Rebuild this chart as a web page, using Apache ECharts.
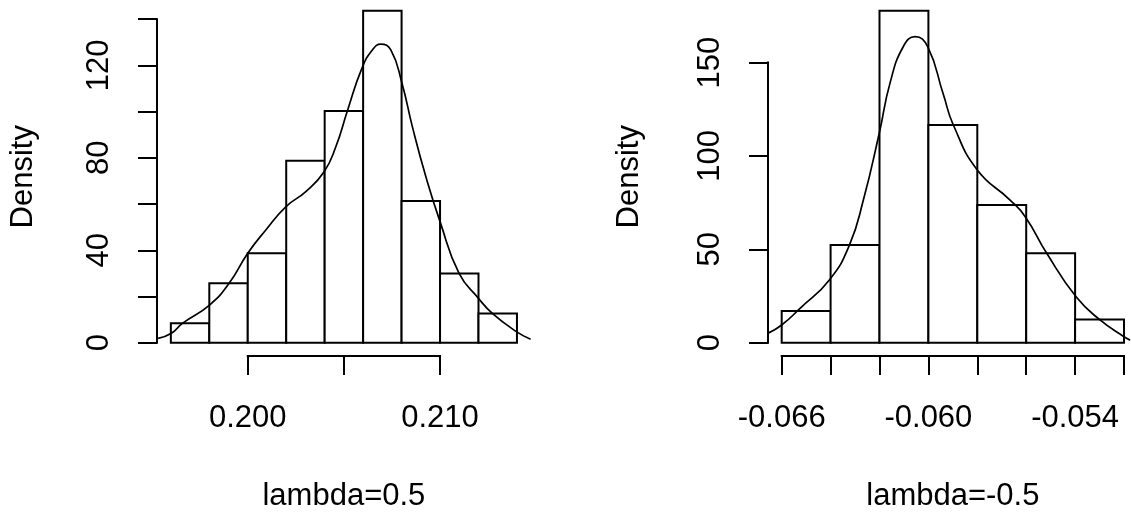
<!DOCTYPE html>
<html><head><meta charset="utf-8">
<script src="https://cdn.jsdelivr.net/npm/echarts@6/dist/echarts.min.js"></script>
<style>html,body{margin:0;padding:0;background:#fff}#c{width:1131px;height:513px}</style>
</head><body><div id="c"></div>
<script>
// ---- Left panel: lambda=0.5 ----
const leftBreaks = [0.196, 0.198, 0.200, 0.202, 0.204, 0.206, 0.208, 0.210, 0.212, 0.214];
const leftDensity = [8.4, 25.7, 38.7, 78.7, 100.3, 143.6, 61.3, 30.0, 12.7];
const leftCurveX = [0.19534, 0.19603, 0.19660, 0.19801, 0.19903, 0.20000, 0.20094, 0.20199, 0.20302, 0.20397, 0.20458, 0.20518, 0.20594, 0.20648, 0.20692, 0.20744, 0.20802, 0.20856, 0.20926, 0.21000, 0.21099, 0.21200, 0.21272, 0.21397, 0.21471];
const leftCurveY = [1.9, 4.1, 8.4, 16.3, 25.7, 38.7, 48.8, 58.9, 65.4, 74.0, 84.8, 100.3, 118.8, 126.7, 129.2, 126.7, 112.3, 93.5, 71.9, 52.4, 30.0, 19.2, 12.7, 4.8, 1.5];
const leftXTicks = [0.200, 0.205, 0.210];
const leftXLabels = [0.200, 0.210];
const leftYTicks = [0, 20, 40, 60, 80, 100, 120, 140];
const leftYLabels = [0, 40, 80, 120];
const leftTitle = 'lambda=0.5';

// ---- Right panel: lambda=-0.5 ----
const rightBreaks = [-0.066, -0.064, -0.062, -0.060, -0.058, -0.056, -0.054, -0.052];
const rightDensity = [17.0, 52.3, 177.7, 116.6, 73.8, 47.9, 12.5];
const rightCurveX = [-0.06657, -0.06600, -0.06525, -0.06405, -0.06323, -0.06266, -0.06201, -0.06157, -0.06103, -0.06054, -0.06003, -0.05939, -0.05898, -0.05800, -0.05666, -0.05604, -0.05516, -0.05396, -0.05298, -0.05200, -0.05175];
const rightCurveY = [5.0, 9.5, 18.4, 33.6, 52.3, 76.4, 112.2, 139.0, 158.5, 163.9, 158.5, 133.0, 116.6, 92.5, 76.4, 67.5, 47.9, 24.6, 12.2, 3.2, 1.4];
const rightXTicks = [-0.066, -0.064, -0.062, -0.060, -0.058, -0.056, -0.054, -0.052];
const rightXLabels = [-0.066, -0.060, -0.054];
const rightYTicks = [0, 50, 100, 150];
const rightYLabels = [0, 50, 100, 150];
const rightTitle = 'lambda=-0.5';
const yTitle = 'Density';

const FONT = 'Liberation Sans, Arial, sans-serif';
const FS = 31;

function lims(breaks, dens) {
  const x0 = breaks[0], x1 = breaks[breaks.length - 1];
  const xr = x1 - x0;
  const ym = Math.max(...dens);
  return { x: [x0 - 0.04 * xr, x1 + 0.04 * xr], y: [-0.04 * ym, ym * 1.04] };
}
const L = lims(leftBreaks, leftDensity);
const R = lims(rightBreaks, rightDensity);

function xAxisFor(gi, lim, ticks, labels, name) {
  return {
    type: 'value', gridIndex: gi, min: lim.x[0], max: lim.x[1],
    axisLine: { show: false, onZero: false }, splitLine: { show: false },
    axisTick: { show: true, customValues: ticks, length: 19, lineStyle: { color: '#000', width: 2 } },
    axisLabel: { customValues: labels, margin: 47, fontSize: FS, fontFamily: FONT, color: '#000',
      formatter: v => v.toFixed(3) },
    name: name, nameLocation: 'middle', nameGap: 125,
    nameTextStyle: { fontSize: FS, fontFamily: FONT, color: '#000' }
  };
}
function yAxisFor(gi, lim, ticks, labels, gap) {
  return {
    type: 'value', gridIndex: gi, min: lim.y[0], max: lim.y[1],
    axisLine: { show: false, onZero: false }, splitLine: { show: false },
    axisTick: { show: true, customValues: ticks, length: 19, lineStyle: { color: '#000', width: 2 } },
    axisLabel: { customValues: labels, rotate: 90, margin: 42, fontSize: FS, fontFamily: FONT, color: '#000',
      formatter: v => String(Math.round(v)) },
    name: yTitle, nameLocation: 'middle', nameGap: gap, nameRotate: 90,
    nameTextStyle: { fontSize: FS, fontFamily: FONT, color: '#000' }
  };
}
function histSeries(gi, breaks, dens) {
  return {
    type: 'custom', xAxisIndex: gi, yAxisIndex: gi, silent: true,
    data: dens.map((d, i) => [breaks[i], breaks[i + 1], d]),
    encode: { x: [0, 1], y: 2 },
    renderItem: function (params, api) {
      const p0 = api.coord([api.value(0), api.value(2)]);
      const p1 = api.coord([api.value(1), 0]);
      return { type: 'rect', shape: { x: p0[0], y: p0[1], width: p1[0] - p0[0], height: p1[1] - p0[1] },
        style: { fill: '#fff', stroke: '#000', lineWidth: 2 } };
    }
  };
}
function curveSeries(gi, xs, ys) {
  return { type: 'line', xAxisIndex: gi, yAxisIndex: gi, silent: true, smooth: 0.5, symbol: 'none',
    data: xs.map((x, i) => [x, ys[i]]), lineStyle: { color: '#000', width: 1.7 } };
}
function axisSeg(gi, pts) {
  return { type: 'line', xAxisIndex: gi, yAxisIndex: gi, silent: true, clip: false, symbol: 'none',
    data: pts, lineStyle: { color: '#000', width: 2, cap: 'square' } };
}

const chart = echarts.init(document.getElementById('c'), null, { renderer: 'canvas' });
chart.setOption({
  animation: false,
  backgroundColor: '#fff',
  grid: [
    { left: 157, top: -2.4, width: 373.8, height: 358.4, outerBoundsMode: 'none', containLabel: false },
    { left: 768, top: -2.4, width: 369.7, height: 358.4, outerBoundsMode: 'none', containLabel: false }
  ],
  xAxis: [
    xAxisFor(0, L, leftXTicks, leftXLabels, leftTitle),
    xAxisFor(1, R, rightXTicks, rightXLabels, rightTitle)
  ],
  yAxis: [
    yAxisFor(0, L, leftYTicks, leftYLabels, 118),
    yAxisFor(1, R, rightYTicks, rightYLabels, 123)
  ],
  series: [
    histSeries(0, leftBreaks, leftDensity),
    curveSeries(0, leftCurveX, leftCurveY),
    axisSeg(0, [[leftXTicks[0], L.y[0]], [leftXTicks[leftXTicks.length - 1], L.y[0]]]),
    axisSeg(0, [[L.x[0], leftYTicks[0]], [L.x[0], leftYTicks[leftYTicks.length - 1]]]),
    histSeries(1, rightBreaks, rightDensity),
    curveSeries(1, rightCurveX, rightCurveY),
    axisSeg(1, [[rightXTicks[0], R.y[0]], [rightXTicks[rightXTicks.length - 1], R.y[0]]]),
    axisSeg(1, [[R.x[0], rightYTicks[0]], [R.x[0], rightYTicks[rightYTicks.length - 1]]])
  ]
});
</script></body></html>
